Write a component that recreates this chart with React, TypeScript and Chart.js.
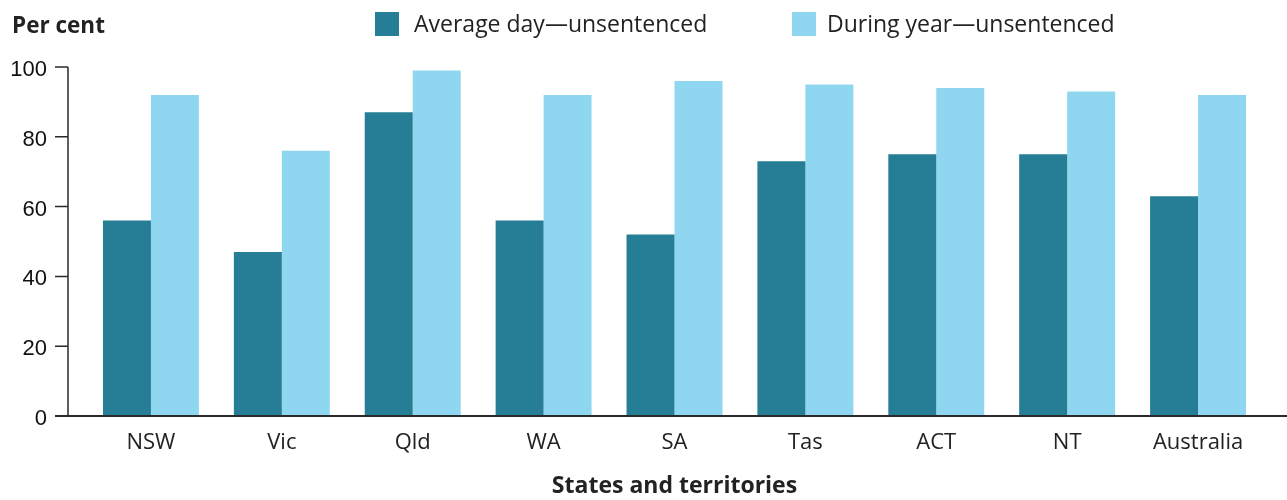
import React, { useEffect, useRef } from "react";
import { Chart, registerables } from "chart.js";

Chart.register(...registerables);

const categories = ["NSW", "Vic", "Qld", "WA", "SA", "Tas", "ACT", "NT", "Australia"];
const averageDay = [56, 47, 87, 56, 52, 73, 75, 75, 63];
const duringYear = [92, 76, 99, 92, 96, 95, 94, 93, 92];
const seriesNames = ["Average day—unsentenced", "During year—unsentenced"];
const yTicks = [0, 20, 40, 60, 80, 100];

const DARK = "#267D96";
const LIGHT = "#8FD7F0";
const TEXT = "#222222";
const AXIS = "#2a2a2a";

const decorPlugin = {
  id: "decor",
  afterDatasetsDraw(chart: any) {
    const { ctx, chartArea, scales } = chart;
    const y = scales.y;
    const axisX = chartArea.left - 17.5;
    const zeroY = y.getPixelForValue(0);
    const topY = y.getPixelForValue(yTicks[yTicks.length - 1]);
    ctx.save();
    ctx.strokeStyle = AXIS;
    ctx.lineWidth = 1.5;
    ctx.beginPath();
    ctx.moveTo(axisX, topY);
    ctx.lineTo(axisX, zeroY);
    yTicks.forEach((v) => {
      const py = y.getPixelForValue(v);
      ctx.moveTo(axisX - 13, py);
      ctx.lineTo(axisX, py);
    });
    ctx.stroke();
    ctx.beginPath();
    ctx.lineWidth = 2;
    ctx.moveTo(axisX - 13, zeroY);
    ctx.lineTo(chart.width, zeroY);
    ctx.stroke();
    ctx.restore();
  },
  afterDraw(chart: any) {
    const { ctx } = chart;
    ctx.save();
    ctx.fillStyle = TEXT;
    ctx.textBaseline = "alphabetic";
    ctx.textAlign = "left";
    ctx.font = "bold 22.5px 'Open Sans'";
    ctx.fillText("Per cent", 12, 33);

    const items = [
      { x: 375, gap: 39, color: DARK, label: seriesNames[0] },
      { x: 792, gap: 35, color: LIGHT, label: seriesNames[1] },
    ];
    ctx.font = "23px 'Open Sans'";
    items.forEach((it) => {
      ctx.fillStyle = it.color;
      ctx.fillRect(it.x, 12, 24, 24);
      ctx.fillStyle = TEXT;
      ctx.fillText(it.label, it.x + it.gap, 32);
    });
    ctx.restore();
  },
};

export default function App() {
  const ref = useRef<HTMLCanvasElement | null>(null);

  useEffect(() => {
    if (!ref.current) return;
    const chart = new Chart(ref.current, {
      type: "bar",
      data: {
        labels: categories,
        datasets: [
          {
            label: seriesNames[0],
            data: averageDay,
            backgroundColor: DARK,
            borderWidth: 0,
            barPercentage: 1,
            categoryPercentage: 0.733,
          },
          {
            label: seriesNames[1],
            data: duringYear,
            backgroundColor: LIGHT,
            borderWidth: 0,
            barPercentage: 1,
            categoryPercentage: 0.733,
          },
        ],
      },
      options: {
        responsive: false,
        animation: false,
        layout: { padding: { top: 67, right: 23.5, bottom: 0, left: 0 } },
        plugins: {
          legend: { display: false },
          title: { display: false },
          tooltip: { enabled: false },
        },
        scales: {
          x: {
            grid: { display: false, drawTicks: false },
            border: { display: false },
            ticks: {
              color: TEXT,
              font: { family: "'Open Sans'", size: 22 },
              padding: 14,
              maxRotation: 0,
              autoSkip: false,
            },
            title: {
              display: true,
              text: "States and territories",
              color: TEXT,
              font: { family: "'Open Sans'", size: 23, weight: "bold" },
              padding: { top: 0, bottom: 0 },
            },
            afterFit: (scale: any) => {
              scale.height = 84;
            },
          },
          y: {
            min: 0,
            max: 100,
            grid: { display: false, drawTicks: false },
            border: { display: false },
            ticks: {
              stepSize: 20,
              color: "#111",
              font: { family: "'Liberation Sans', Arial", size: 22 },
              padding: 38.5,
              labelOffset: 3,
            },
            afterFit: (scale: any) => {
              scale.width = 85.5;
            },
          },
        },
      },
      plugins: [decorPlugin],
    });
    return () => chart.destroy();
  }, []);

  return (
    <div style={{ position: "fixed", left: 0, top: 0, width: 1287, height: 500, background: "#fff" }}>
      <canvas ref={ref} width={1287} height={500} />
    </div>
  );
}
